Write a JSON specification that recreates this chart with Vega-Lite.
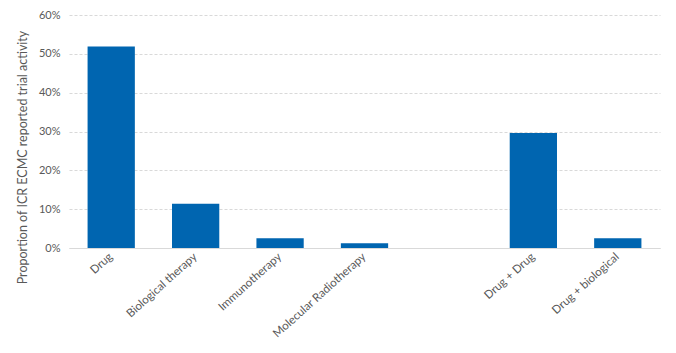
{
  "$schema": "https://vega.github.io/schema/vega-lite/v6.json",
  "width": 591,
  "height": 233,
  "autosize": {"type": "none"},
  "padding": {"left": 69, "top": 15, "right": 16, "bottom": 105},
  "background": "white",
  "data": {
    "values": [
      {"category": "Drug", "share": 0.519},
      {"category": "Biological therapy", "share": 0.114},
      {"category": "Immunotherapy", "share": 0.025},
      {"category": "Molecular Radiotherapy", "share": 0.012},
      {"category": "Drug + Drug", "share": 0.296},
      {"category": "Drug + biological", "share": 0.025}
    ]
  },
  "mark": {"type": "bar", "color": "#0065B0"},
  "encoding": {
    "x": {
      "field": "category",
      "type": "nominal",
      "sort": null,
      "scale": {
        "domain": ["Drug", "Biological therapy", "Immunotherapy", "Molecular Radiotherapy", " ", "Drug + Drug", "Drug + biological"],
        "paddingInner": 0.44,
        "paddingOuter": 0.22
      },
      "axis": {
        "title": null,
        "labelAngle": -42,
        "labelAlign": "right",
        "labelBaseline": "middle",
        "labelFont": "Lato",
        "labelFontSize": 11.5,
        "labelColor": "#595959",
        "labelPadding": 7,
        "ticks": false,
        "domainColor": "#d9d9d9",
        "domainWidth": 1
      }
    },
    "y": {
      "field": "share",
      "type": "quantitative",
      "scale": {"domain": [0, 0.6], "nice": false},
      "axis": {
        "title": "Proportion of ICR ECMC reported trial activity",
        "titleFont": "Lato",
        "titleFontSize": 12.5,
        "titleFontWeight": "normal",
        "titleColor": "#595959",
        "titlePadding": 9,
        "titleY": 142,
        "format": ".0%",
        "values": [0, 0.1, 0.2, 0.3, 0.4, 0.5, 0.6],
        "labelFont": "Lato",
        "labelFontSize": 11,
        "labelColor": "#595959",
        "labelPadding": 9,
        "ticks": false,
        "domain": false,
        "gridColor": "#d9d9d9",
        "gridDash": [3, 2],
        "gridWidth": 1
      }
    }
  },
  "config": {"view": {"stroke": null}}
}
